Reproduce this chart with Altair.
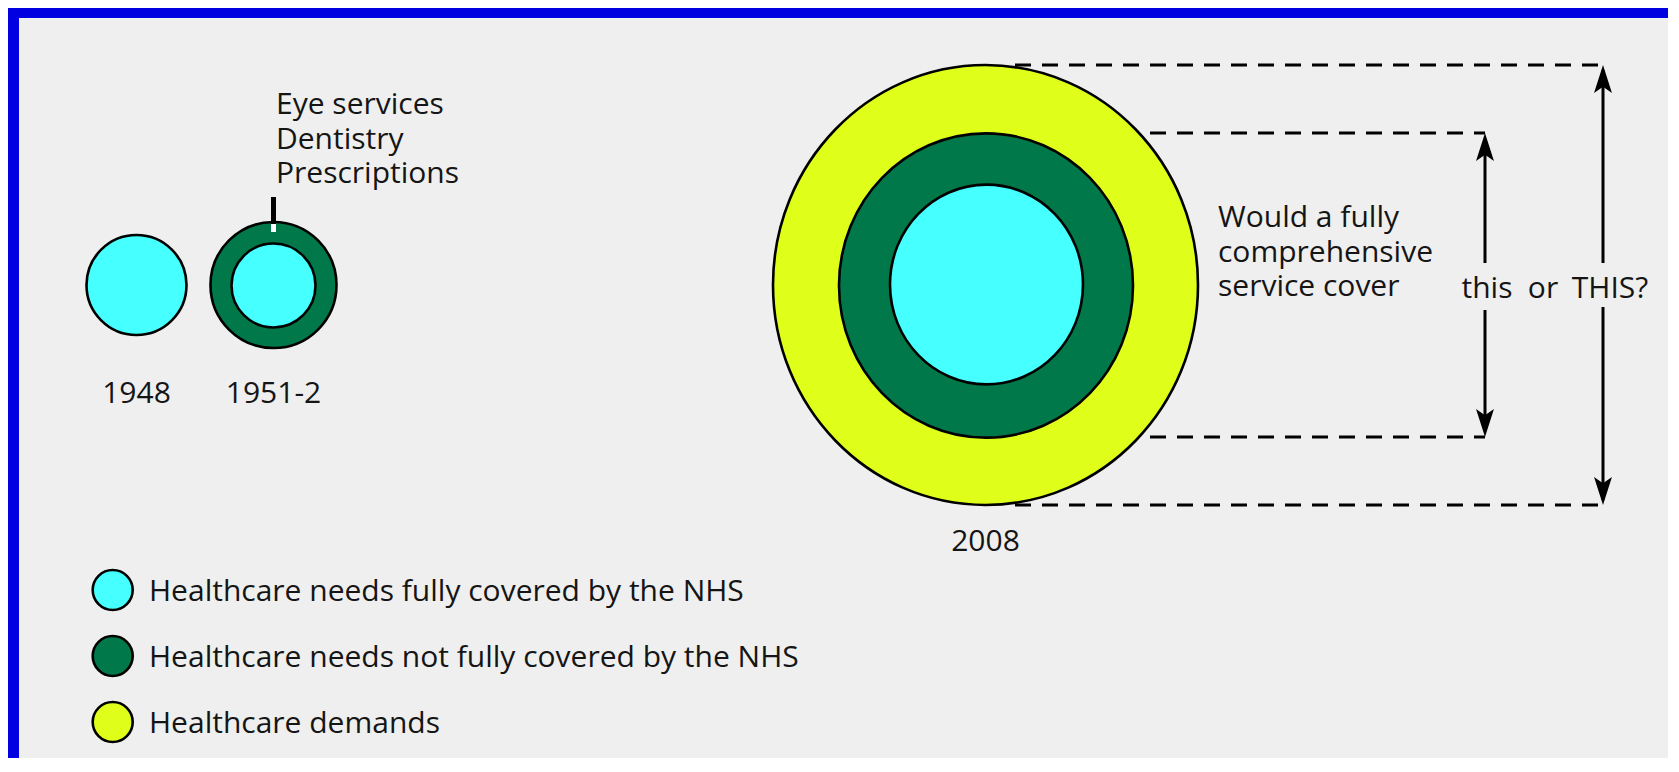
import altair as alt
import pandas as pd

# ---------------- canvas (page pixel coordinates of the reference) ----------------
W, H = 1660, 750
OFF = 8  # page margin: chart origin sits at page (8, 8)

FONT = "Open Sans"
TXT = "#151515"
CYAN, GREEN, YELLOW = "#46ffff", "#00784a", "#dfff1a"
BLUE = "#0000e0"
BG = "#efefef"

# ---------------- circles ----------------
circ_name = ["1948", "1951-2 outer", "1951-2 inner",
             "2008 demands", "2008 not covered", "2008 covered",
             "legend covered", "legend not covered", "legend demands"]
circ_x = [136.5, 273.5, 273.5, 985.5, 986.0, 986.5, 112.7, 112.7, 112.7]
circ_y = [285.0, 285.0, 285.5, 285.0, 285.5, 284.5, 590.0, 656.0, 722.0]
circ_w = [100, 126, 84, 425, 294, 193, 40, 40, 40]          # horizontal diameter
circ_kind = ["covered", "not", "covered", "demands", "not", "covered",
             "covered", "not", "demands"]
circ_oval = [False, False, False, True, True, True, False, False, False]

ELLIPSE = "M-1,0A1,1.035,0,1,1,1,0A1,1.035,0,1,1,-1,0Z"
fill_of = {"covered": CYAN, "not": GREEN, "demands": YELLOW}
circles = pd.DataFrame({
    "name": circ_name, "x": circ_x, "y": circ_y,
    "size": [w * w for w in circ_w],
    "fill": [fill_of[k] for k in circ_kind],
    "shape": [ELLIPSE if o else "circle" for o in circ_oval],
    "order": list(range(len(circ_name))),
})

# ---------------- annotation tick on 1951-2 ----------------
tick_x = [273.5, 273.5]
tick_y1 = [197, 224]
tick_y2 = [224, 232]
tick_col = ["black", "white"]
ticks = pd.DataFrame({"x": tick_x, "y": tick_y1, "y2": tick_y2, "col": tick_col})

# ---------------- dashed guide lines ----------------
dash_x1 = [1015, 1015, 1015, 1015]
dash_x2 = [1603, 1485, 1485, 1603]
dash_y = [65, 133, 437, 505]
dashes = pd.DataFrame({"x": dash_x1, "x2": dash_x2, "y": dash_y})

# ---------------- arrows ----------------
shaft_x = [1485, 1485, 1603, 1603]
shaft_y1 = [140, 310, 70, 307]
shaft_y2 = [263, 430, 263, 500]
shafts = pd.DataFrame({"x": shaft_x, "y": shaft_y1, "y2": shaft_y2})

head_x = [1485, 1485, 1603, 1603]
head_y = [147, 423, 79, 491]
head_angle = [0, 180, 0, 180]
ARROW = "M0,-1L0.64,1L0,0.55L-0.64,1Z"
heads = pd.DataFrame({"x": head_x, "y": head_y, "angle": head_angle})

# ---------------- texts ----------------
stack_text = ["Eye services\nDentistry\nPrescriptions",
              "Would a fully\ncomprehensive\nservice cover"]
stack_x = [276, 1218]
stack_y = [114, 227]          # baseline of first line
stack_df = pd.DataFrame({"t": stack_text, "x": stack_x, "y": stack_y})

legend_text = ["Healthcare needs fully covered by the NHS",
               "Healthcare needs not fully covered by the NHS",
               "Healthcare demands"]
legend_x = [149, 149, 149]
legend_y = [601, 667, 733]
legend_df = pd.DataFrame({"t": legend_text, "x": legend_x, "y": legend_y})

center_text = ["1948", "1951-2", "2008", "this", "or", "THIS?"]
center_x = [136.5, 273.5, 985.5, 1487, 1543, 1610]
center_y = [403, 403, 551, 298, 298, 298]
center_df = pd.DataFrame({"t": center_text, "x": center_x, "y": center_y})

# ---------------- scales: reference page pixels ----------------
xs = alt.Scale(domain=[OFF, OFF + W], range=[0, W], nice=False, zero=False)
ys = alt.Scale(domain=[OFF, OFF + H], range=[0, H], nice=False, zero=False)


def X(f="x"):
    return alt.X(f"{f}:Q", scale=xs, axis=None)


def Y(f="y"):
    return alt.Y(f"{f}:Q", scale=ys, axis=None)


one = pd.DataFrame({"k": [0]})
frame_top = alt.Chart(one).mark_rect(color=BLUE).encode(
    x=alt.value(0), x2=alt.value(W), y=alt.value(0), y2=alt.value(10))
frame_left = alt.Chart(one).mark_rect(color=BLUE).encode(
    x=alt.value(0), x2=alt.value(11), y=alt.value(0), y2=alt.value(H))

circle_layer = alt.Chart(circles).mark_point(
    filled=True, stroke="black", strokeWidth=2.6, opacity=1, strokeOpacity=1
).encode(
    x=X(), y=Y(),
    size=alt.Size("size:Q", scale=None),
    fill=alt.Fill("fill:N", scale=None),
    shape=alt.Shape("shape:N", scale=None),
    order=alt.Order("order:Q"),
)

tick_layer = alt.Chart(ticks).mark_rule(strokeWidth=5).encode(
    x=X(), y=Y(), y2="y2:Q",
    color=alt.Color("col:N", scale=None),
)

dash_layer = alt.Chart(dashes).mark_rule(
    strokeWidth=3, strokeDash=[16, 11], color="black").encode(
    x=X(), x2="x2:Q", y=Y())

shaft_layer = alt.Chart(shafts).mark_rule(strokeWidth=3, color="black").encode(
    x=X(), y=Y(), y2="y2:Q")

head_layer = alt.Chart(heads).mark_point(
    filled=True, color="black", opacity=1, shape=ARROW, size=784).encode(
    x=X(), y=Y(), angle=alt.Angle("angle:Q", scale=None))

stack_layer = alt.Chart(stack_df).mark_text(
    font=FONT, fontSize=30, align="left", baseline="alphabetic", color=TXT,
    lineBreak="\n", lineHeight=34.5
).encode(x=X(), y=Y(), text="t:N")

legend_layer = alt.Chart(legend_df).mark_text(
    font=FONT, fontSize=30, align="left", baseline="alphabetic", color=TXT
).encode(x=X(), y=Y(), text="t:N")

center_layer = alt.Chart(center_df).mark_text(
    font=FONT, fontSize=30, align="center", baseline="alphabetic", color=TXT
).encode(x=X(), y=Y(), text="t:N")

chart = alt.layer(
    frame_top, frame_left, dash_layer, circle_layer, tick_layer, shaft_layer,
    head_layer, stack_layer, legend_layer, center_layer
).properties(
    width=W, height=H, padding=0, autosize="none", background=BG
).configure_view(stroke=None)

chart.save("out.html", embed_options={"renderer": "svg", "actions": False})
